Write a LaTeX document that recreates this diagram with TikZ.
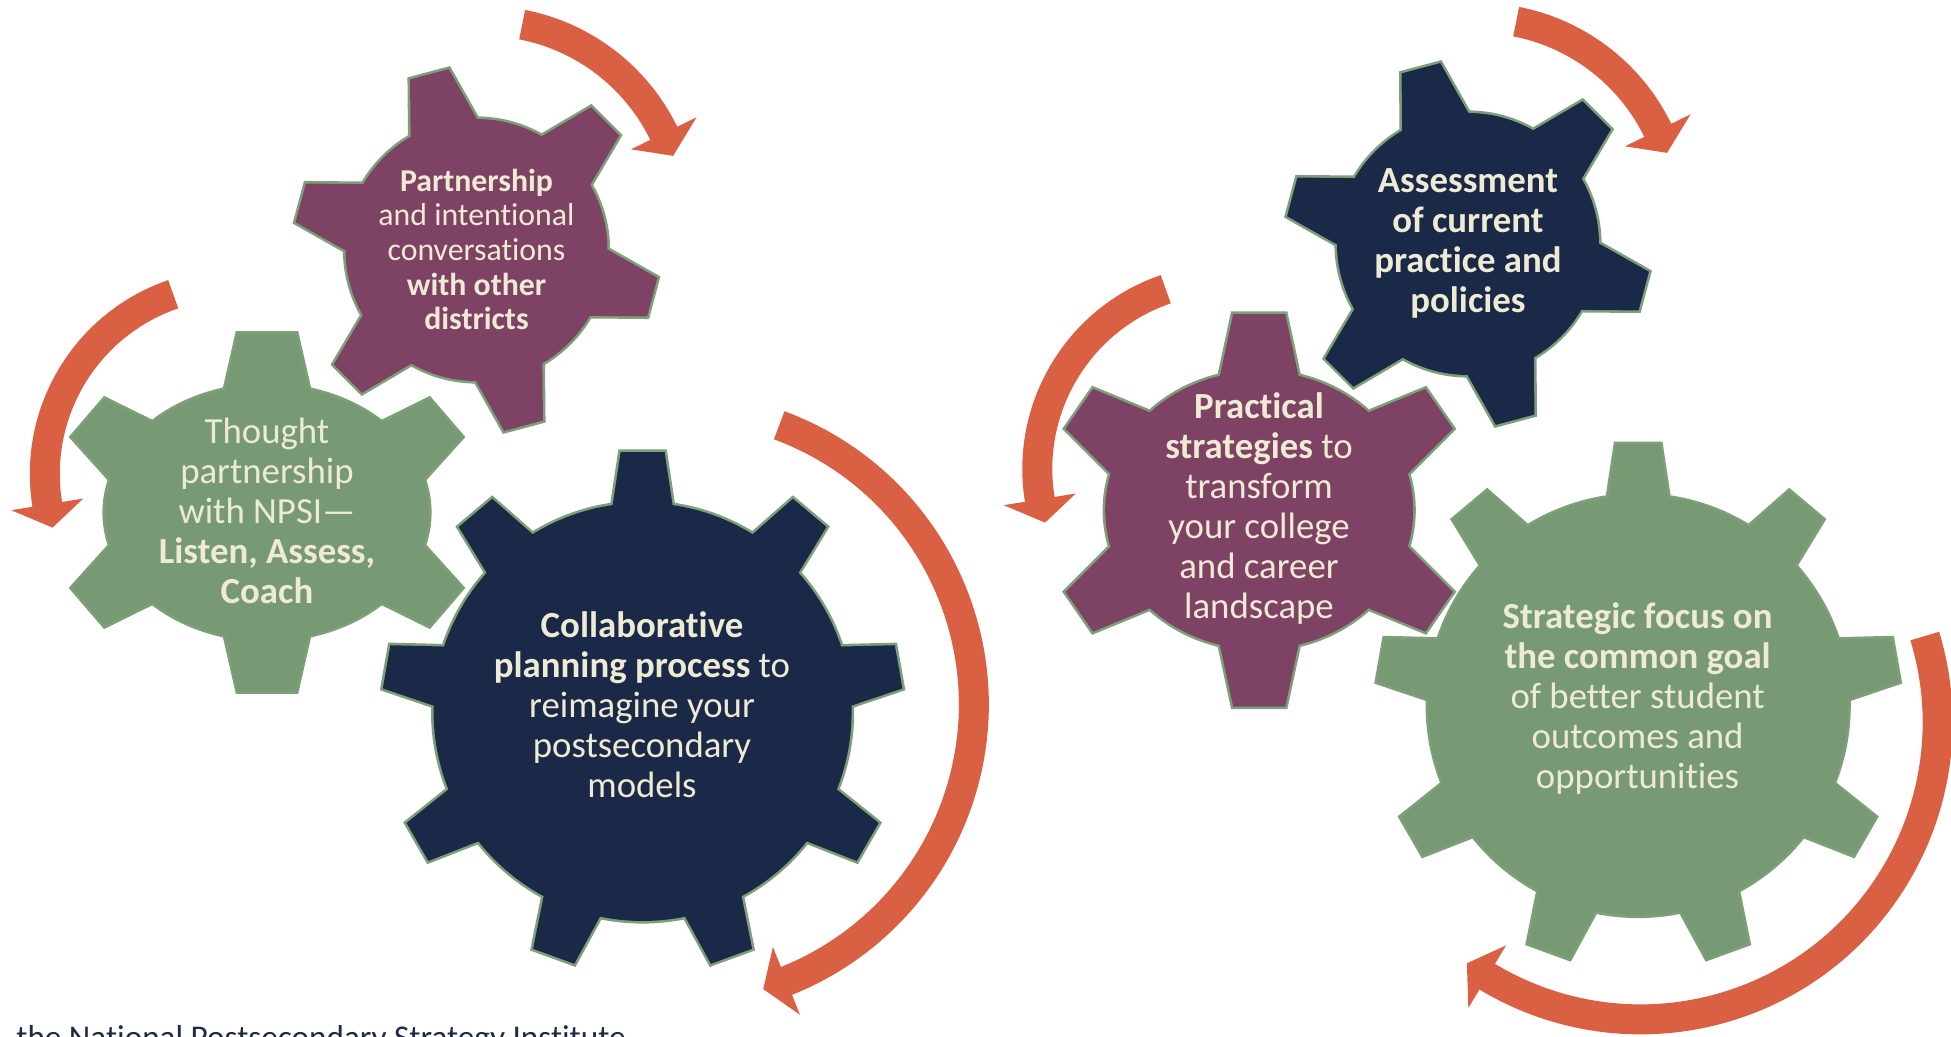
\documentclass[tikz,border=0pt]{standalone}
\usepackage{fontspec}
\setmainfont{Carlito}[Ligatures={TeX,NoCommon}]
\usetikzlibrary{calc}

\definecolor{gearnavy}{HTML}{1B2949}
\definecolor{gearplum}{HTML}{7E4364}
\definecolor{geargreen}{HTML}{779A74}
\definecolor{edgegreen}{HTML}{7DA078}
\definecolor{arrowred}{HTML}{D96043}
\definecolor{cream}{HTML}{EEEAD3}
\definecolor{footnavy}{HTML}{1F2A44}

% one pass of a cog: body ellipse plus teeth (base angle / tip angle / tip radius)
\newcommand{\cogpath}[7]{%
  \begin{scope}[shift={#1}, xscale=#2, yscale=#3]
    \path[#7] (0,0) circle (1);
    \foreach \b/\t/\r in {#6} {
      \pgfmathsetmacro\da{atan(#4/\r)}
      \pgfmathsetmacro\rr{sqrt(\r*\r+#4*#4)}
      \path[#7] (\t-\da:\rr) -- (\t+\da:\rr) -- (\b+#5:1) -- (\b+#5:0.5)
        -- (\b-#5:0.5) -- (\b-#5:1) -- cycle;
    }
  \end{scope}}
% outline first, then the fill on top
\newcommand{\cog}[7]{%
  \cogpath{#1}{#2}{#3}{#4}{#5}{#6}{gearedge}%
  \cogpath{#1}{#2}{#3}{#4}{#5}{#6}{fill=#7}}

\begin{document}
\begin{tikzpicture}
  [x=0.5pt,y=0.5pt,
   every node/.style={align=center,text=cream,inner sep=0pt},
   gearedge/.style={fill=edgegreen,draw=edgegreen,line width=2.6pt},
   band/.style={draw=arrowred,line width=15pt},
   big/.style={font=\fontsize{18.4}{20}\selectfont},
   small/.style={font=\fontsize{15.9}{17.3}\selectfont}]
  \useasboundingbox (0,0) rectangle (1951,1037);
  \clip (0,0) rectangle (1951,1037);

  % arrows: centre, radius, start, head base, tip
  \foreach \cx/\cy/\r/\s/\e/\t in {484/816/200/79/26/19,
      234.8/563/190/108.9/189.2/196.4,
      676.2/332.5/297.6/69.75/-68.25/-73,
      1478/819/200/79/26/19,
      1227.3/568/190/108.9/189.2/196.4,
      1640.6/314.6/297/16.9/-121.1/-125.8} {
    \coordinate (hub) at (\cx,\cy);
    \pgfmathsetmacro\m{\e+0.3*(\t-\e)}
    \draw[band] (hub) ++(\s:\r) arc[start angle=\s, end angle=\m, radius=\r];
    \fill[arrowred] ($(hub)+(\e:{\r-36.5})$) -- ($(hub)+(\e:{\r+36.5})$)
      -- ($(hub)+(\t:\r)$) -- cycle;
  }

  % gears
  \cog{(476.5,787)}{131}{131}{0.153}{15.2}
    {105/105/1.389,45/45/1.389,-15/-15/1.389,-75/-75/1.389,-135/-135/1.389,165/165/1.389}{gearplum}
  \cog{(267,524.5)}{162}{127}{0.18}{15}
    {90/90/1.407,30/34/1.33,-30/-34/1.33,-90/-90/1.407,-150/-146/1.33,150/146/1.33}{geargreen}
  \cog{(642.6,325)}{209}{209}{0.105}{8.25}
    {90/90/1.244,50/50/1.244,10/10/1.244,-30/-30/1.244,-70/-70/1.244,-110/-110/1.244,-150/-150/1.244,170/170/1.244,130/130/1.244}{gearnavy}
  \cog{(1468,793)}{131}{131}{0.153}{15.2}
    {105/105/1.389,45/45/1.389,-15/-15/1.389,-75/-75/1.389,-135/-135/1.389,165/165/1.389}{gearnavy}
  \cog{(1259.2,526.7)}{154}{139}{0.169}{14.8}
    {90/90/1.412,30/32/1.378,-30/-32/1.378,-90/-90/1.412,-150/-148/1.378,150/148/1.378}{gearplum}
  \cog{(1638.2,331.5)}{210}{210}{0.105}{8.25}
    {90/90/1.244,50/50/1.244,10/10/1.244,-30/-30/1.244,-70/-70/1.244,-110/-110/1.244,-150/-150/1.244,170/170/1.244,130/130/1.244}{geargreen}

  % texts
  \node[small] (partner) at (476.5,787.5)
    {\textbf{Partnership}\\and intentional\\conversations\\\textbf{with other}\\\textbf{districts}};
  \node[big] (thought) at (267,525.7)
    {Thought\\partnership\\with NPSI—\\\textbf{Listen, Assess,}\\\textbf{Coach}};
  \node[big] (collab) at (642,332.2)
    {\textbf{Collaborative}\\\textbf{planning process} to\\reimagine your\\postsecondary\\models};
  \node[big] (assess) at (1468,793.7)
    {\textbf{Assessment}\\\textbf{of current}\\\textbf{practice and}\\\textbf{policies}};
  \node[big] (practical) at (1259,528.1)
    {\textbf{Practical}\\\textbf{strategies} to\\transform\\your college\\and career\\landscape};
  \node[big] (strategic) at (1637.6,338.4)
    {\textbf{Strategic focus on}\\\textbf{the common goal}\\of better student\\outcomes and\\opportunities};

  \node[text=footnavy,anchor=base west,font=\fontsize{16.6}{20}\selectfont] (source) at (16,-12)
    {the National Postsecondary Strategy Institute};
\end{tikzpicture}
\end{document}
